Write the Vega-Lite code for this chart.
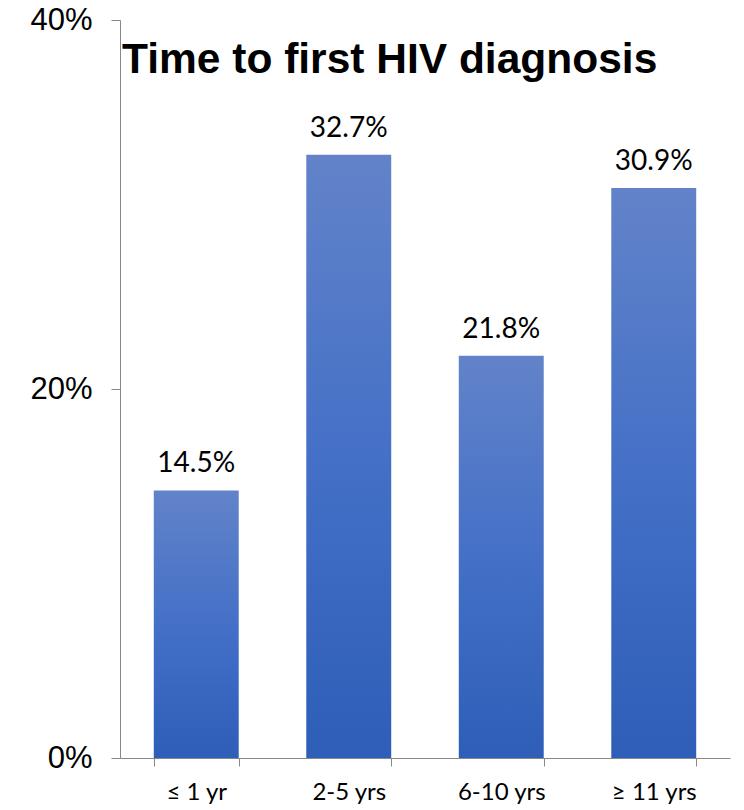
{
  "$schema": "https://vega.github.io/schema/vega-lite/v6.json",
  "width": 610,
  "height": 738,
  "autosize": {"type": "none"},
  "padding": {"left": 120, "top": 20, "right": 14, "bottom": 52},
  "background": "white",
  "title": {
    "text": "Time to first HIV diagnosis",
    "anchor": "start",
    "frame": "group",
    "orient": "top",
    "offset": 0,
    "baseline": "alphabetic",
    "dy": 111,
    "dx": 2,
    "font": "Liberation Sans",
    "fontSize": 42.5,
    "fontWeight": "bold",
    "color": "black"
  },
  "config": {"view": {"stroke": null}},
  "data": {
    "values": [
      {"period": "≤ 1 yr", "share": 0.145},
      {"period": "2-5 yrs", "share": 0.327},
      {"period": "6-10 yrs", "share": 0.218},
      {"period": "≥ 11 yrs", "share": 0.309}
    ]
  },
  "encoding": {
    "x": {
      "field": "period",
      "type": "nominal",
      "sort": null,
      "scale": {"paddingInner": 0.443, "paddingOuter": 0.2215},
      "axis": {
        "title": null,
        "labelAngle": 0,
        "tickBand": "extent",
        "tickSize": 8,
        "tickColor": "#888888",
        "domainColor": "#888888",
        "labelFont": "Lato",
        "labelFontSize": 24,
        "labelColor": "black",
        "labelPadding": 14
      }
    },
    "y": {
      "field": "share",
      "type": "quantitative",
      "scale": {"domain": [0, 0.4], "nice": false},
      "axis": {
        "title": null,
        "values": [0, 0.2, 0.4],
        "format": ".0%",
        "grid": false,
        "tickSize": 9,
        "tickColor": "#888888",
        "domainColor": "#888888",
        "labelFont": "Liberation Sans",
        "labelFontSize": 31,
        "labelColor": "black",
        "labelPadding": 19
      }
    }
  },
  "layer": [
    {
      "mark": {
        "type": "bar",
        "color": {
          "gradient": "linear",
          "x1": 0, "y1": 0, "x2": 0, "y2": 1,
          "stops": [
            {"offset": 0, "color": "#6283C9"},
            {"offset": 0.5, "color": "#4470C7"},
            {"offset": 1, "color": "#2E5EB8"}
          ]
        }
      }
    },
    {
      "mark": {
        "type": "text",
        "baseline": "alphabetic",
        "dy": -18,
        "font": "Lato",
        "fontSize": 28,
        "color": "black"
      },
      "encoding": {
        "text": {"field": "share", "type": "quantitative", "format": ".1%"}
      }
    }
  ]
}
